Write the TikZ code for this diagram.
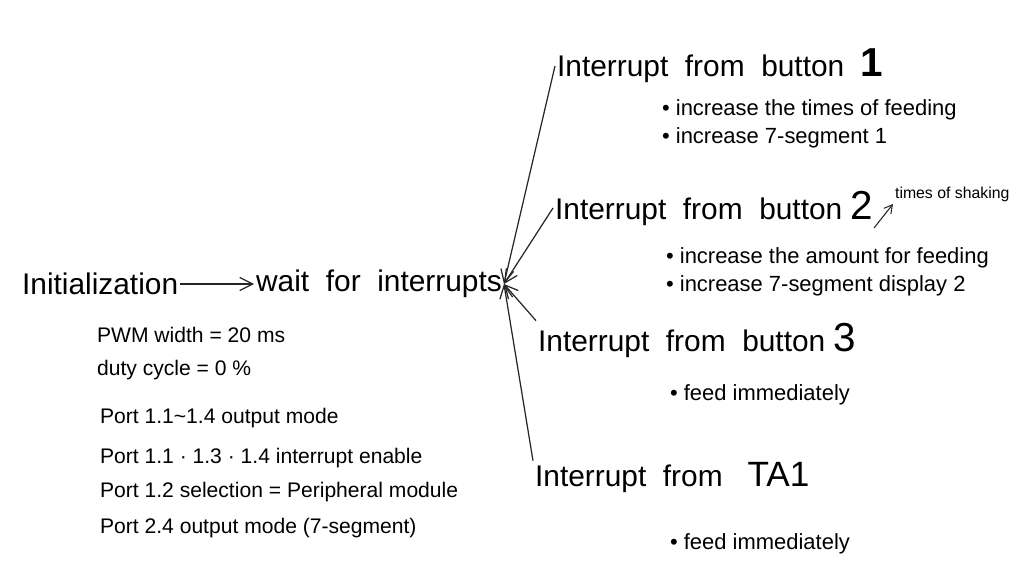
\documentclass[tikz,border=0pt]{standalone}
\usepackage{fontspec}
\setmainfont{Liberation Sans}
\usetikzlibrary{arrows.meta,positioning}

\begin{document}
\begin{tikzpicture}[
  x=0.02cm, y=-0.02cm,
  heading/.style={anchor=west, inner sep=1pt, font=\fontsize{17}{20}\selectfont},
  note/.style={anchor=west, inner sep=1pt, font=\fontsize{12.5}{15}\selectfont},
  setup/.style={anchor=west, inner sep=1pt, font=\fontsize{12}{14}\selectfont},
  aside/.style={anchor=south west, inner sep=1pt, font=\fontsize{9}{11}\selectfont},
  link/.style={-{Straight Barb[length=2.6mm,width=2.6mm]}, line width=0.7pt, black!85},
  >=Stealth
]
  \useasboundingbox (0,0) rectangle (1024,587);

  % main flow
  \node[heading] (init) at (20,284) {Initialization};
  \node[heading, right=42pt of init] (wait) {wait\ \ for\ \ interrupts};
  \draw[link] (init.east) -- (wait.west);

  % interrupt sources
  \node[heading] (btn1) at (555,66) {Interrupt\ \ from\ \ button\ \ {\bfseries\fontsize{23}{26}\selectfont 1}};
  \node[heading] (btn2) at (553,208) {Interrupt\ \ from\ \ button\ {\fontsize{23}{26}\selectfont 2}};
  \node[heading] (btn3) at (536,340) {Interrupt\ \ from\ \ button\ {\fontsize{23}{26}\selectfont 3}};
  \node[heading] (ta1)  at (533,478) {Interrupt\ \ from\ \ \ {\fontsize{20}{24}\selectfont TA1}};

  \draw[link] (btn1.west) -- (wait.east);
  \draw[link] (btn2.west) -- (wait.east);
  \draw[link] (btn3.north west) -- (wait.east);
  \draw[link] (ta1.north west) -- (wait.east);

  % actions
  \node[note] (b1a) at (660,110) {\textbullet\ increase the times of feeding};
  \node[note] (b1b) at (660,138) {\textbullet\ increase 7-segment 1};
  \node[note] (b2a) at (664,258) {\textbullet\ increase the amount for feeding};
  \node[note] (b2b) at (664,286) {\textbullet\ increase 7-segment display 2};
  \node[note] (b3a) at (668,395) {\textbullet\ feed immediately};
  \node[note] (t1a) at (668,544) {\textbullet\ feed immediately};

  % side remark on button 2
  \coordinate (shakefoot) at (874,228);
  \node[aside] (shake) at (893,204) {times of shaking};
  \draw[-{Straight Barb[length=1.6mm,width=1.8mm]}, line width=0.6pt, black!85] (shakefoot) -- (shake.south west);

  % initialization settings
  \node[setup] (pwm)  at (95,335) {PWM width = 20 ms};
  \node[setup] (duty) at (95,370) {duty cycle = 0 \%};
  \node[setup] (p1)   at (98,418) {Port 1.1\textasciitilde1.4 output mode};
  \node[setup] (p2)   at (98,458) {Port 1.1 · 1.3 · 1.4 interrupt enable};
  \node[setup] (p3)   at (98,492) {Port 1.2 selection = Peripheral module};
  \node[setup] (p4)   at (98,528) {Port 2.4 output mode (7-segment)};
\end{tikzpicture}
\end{document}
